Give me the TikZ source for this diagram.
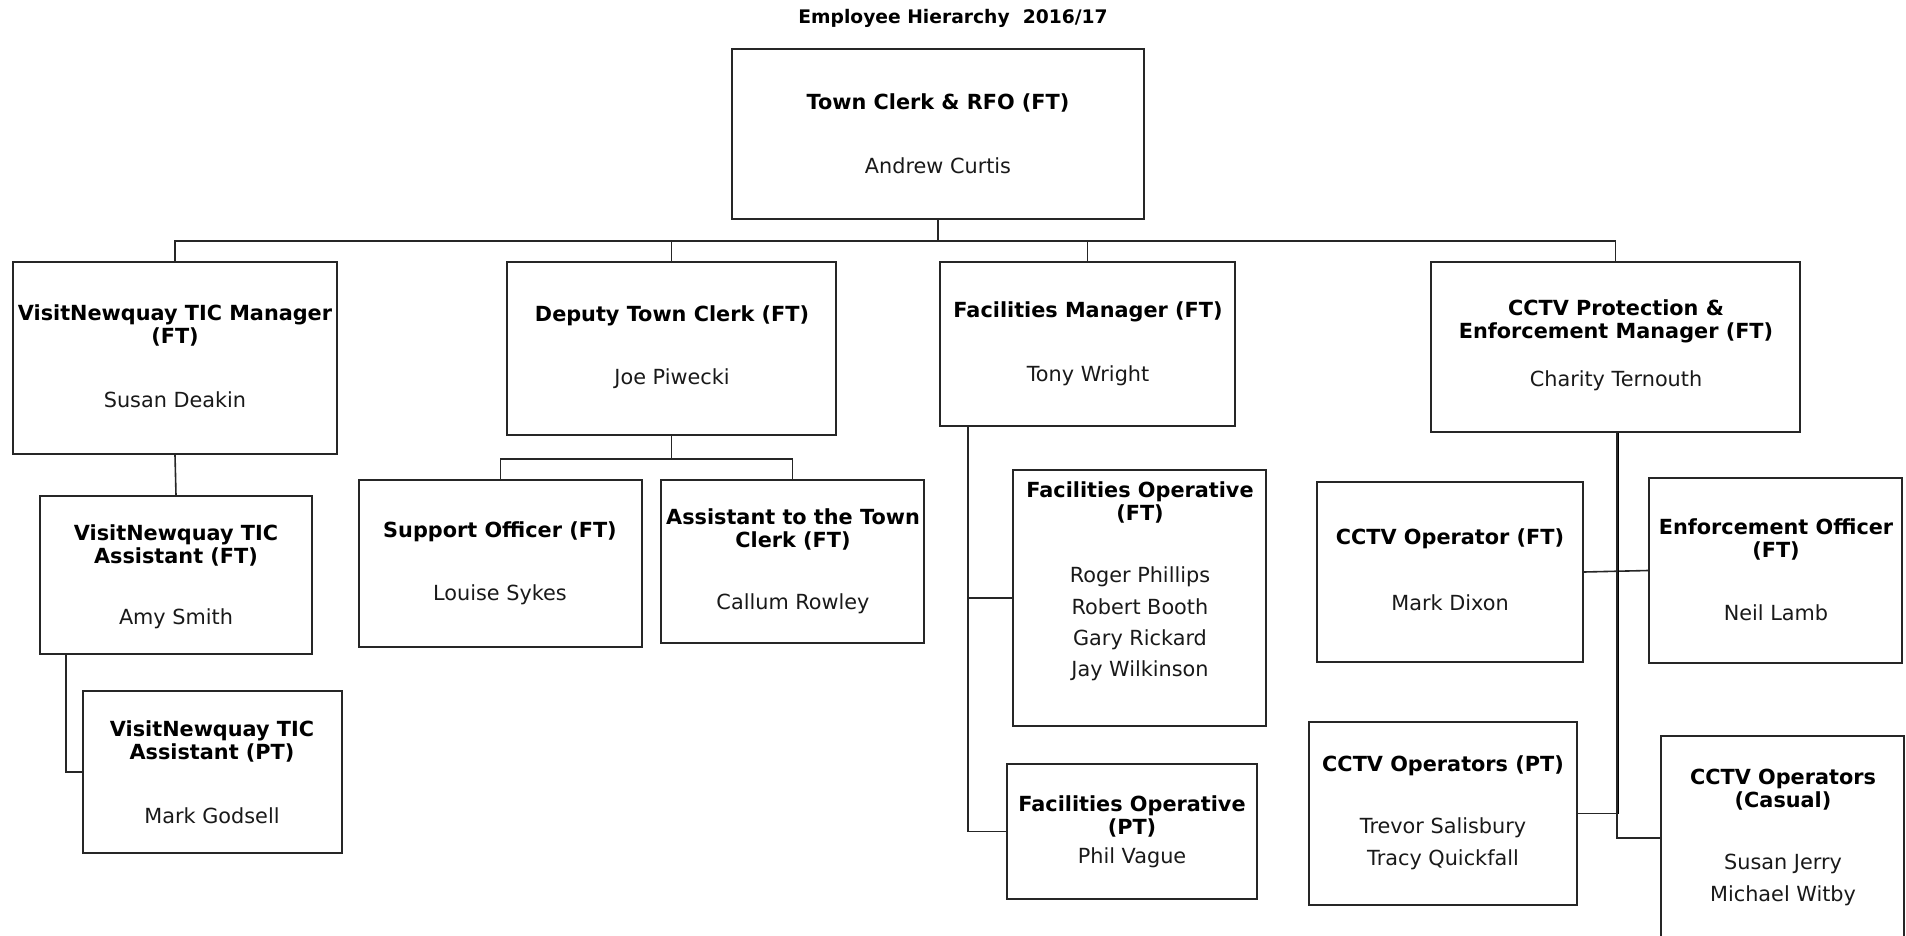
\documentclass[tikz,border=0pt]{standalone}
\usepackage{fontspec}
\setmainfont{DejaVu Sans}
\begin{document}
\begin{tikzpicture}[x=1pt,y=-1pt,
  obox/.style={draw=black!85, line width=1.6pt, fill=white, inner sep=0pt, rectangle},
  ttl/.style={font=\bfseries\fontsize{20.8}{23}\selectfont, align=center, inner sep=0pt, text=black},
  nm/.style={font=\fontsize{20.8}{23}\selectfont, align=center, inner sep=0pt, text=black!90},
  conn/.style={draw=black!85, line width=1.6pt},
  thick conn/.style={draw=black, line width=3pt}]
\clip (0,0) rectangle (1906,935);
\newcommand{\orgbox}[5]{%
  \node[obox, minimum width={(#4)-(#2)}, minimum height={(#5)-(#3)}] (#1) at ({((#2)+(#4))/2},{((#3)+(#5))/2}) {};}

\node[font=\bfseries\fontsize{18.7}{22}\selectfont, inner sep=0pt] (title) at (953,18) {Employee Hierarchy\ \ 2016/17};

% boxes
\orgbox{top}{732}{49}{1144}{219}
\orgbox{tic}{13}{262}{337}{454}
\orgbox{dep}{507}{262}{836}{435}
\orgbox{fac}{940}{262}{1235}{426}
\orgbox{cctv}{1431}{262}{1800}{432}
\orgbox{ticA}{40}{496}{312}{654}
\orgbox{ticP}{83}{691}{342}{853}
\orgbox{sup}{359}{480}{642}{647}
\orgbox{asst}{661}{480}{924}{643}
\orgbox{facO}{1013}{470}{1266}{726}
\orgbox{facP}{1007}{764}{1257}{899}
\orgbox{opFT}{1317}{482}{1583}{662}
\orgbox{enf}{1649}{478}{1902}{663}
\orgbox{ops}{1309}{722}{1577}{905}
\orgbox{cas}{1661}{736}{1904}{940}

% texts
\node[ttl] (top-t) at (938,103) {Town Clerk \& RFO (FT)};
\node[nm] (top-n) at (938,166) {Andrew Curtis};
\node[ttl] (tic-t) at (175,325) {VisitNewquay TIC Manager\\(FT)};
\node[nm] (tic-n) at (175,400) {Susan Deakin};
\node[ttl] (dep-t) at (672,316) {Deputy Town Clerk (FT)};
\node[nm] (dep-n) at (672,379) {Joe Piwecki};
\node[ttl] (fac-t) at (1088,312) {Facilities Manager (FT)};
\node[nm] (fac-n) at (1088,376) {Tony Wright};
\node[ttl] (cctv-t) at (1616,321) {CCTV Protection \&\\Enforcement Manager (FT)};
\node[nm] (cctv-n) at (1616,381) {Charity Ternouth};
\node[ttl] (ticA-t) at (176,545) {VisitNewquay TIC\\Assistant (FT)};
\node[nm] (ticA-n) at (176,619) {Amy Smith};
\node[ttl] (ticP-t) at (212,741) {VisitNewquay TIC\\Assistant (PT)};
\node[nm] (ticP-n) at (212,816) {Mark Godsell};
\node[ttl] (sup-t) at (500,532) {Support Officer (FT)};
\node[nm] (sup-n) at (500,595) {Louise Sykes};
\node[ttl] (asst-t) at (793,529) {Assistant to the Town\\Clerk (FT)};
\node[nm] (asst-n) at (793,604) {Callum Rowley};
\node[ttl] (facO-t) at (1140,502) {Facilities Operative\\(FT)};
\node[nm, font=\fontsize{20.8}{31.3}\selectfont] (facO-n) at (1140,624) {Roger Phillips\\Robert Booth\\Gary Rickard\\Jay Wilkinson};
\node[ttl] (facP-t) at (1132,816) {Facilities Operative\\(PT)};
\node[nm] (facP-n) at (1132,858) {Phil Vague};
\node[ttl] (opFT-t) at (1450,539) {CCTV Operator (FT)};
\node[nm] (opFT-n) at (1450,603) {Mark Dixon};
\node[ttl] (enf-t) at (1776,539) {Enforcement Officer\\(FT)};
\node[nm] (enf-n) at (1776,613) {Neil Lamb};
\node[ttl] (ops-t) at (1443,766) {CCTV Operators (PT)};
\node[nm, font=\fontsize{20.8}{32}\selectfont] (ops-n) at (1443,844) {Trevor Salisbury\\Tracy Quickfall};
\node[ttl] (cas-t) at (1783,790) {CCTV Operators\\(Casual)};
\node[nm, font=\fontsize{20.8}{32}\selectfont] (cas-n) at (1783,880) {Susan Jerry\\Michael Witby};

% connectors
\draw[conn] (top.south) -- ++(0,21) -| (tic.north);
\draw[conn] (top.south) -- ++(0,21) -| (dep.north);
\draw[conn] (top.south) -- ++(0,21) -| (fac.north);
\draw[conn] (top.south) -- ++(0,21) -| (cctv.north);
\draw[conn] (tic.south) -- (ticA.north);
\draw[conn] ([xshift=27pt]ticA.south west) |- (ticP.west);
\draw[conn] (dep.south) -- ++(0,23) -| (sup.north);
\draw[conn] (dep.south) -- ++(0,23) -| (asst.north);
\draw[conn] ([xshift=29pt]fac.south west) |- (facO.west);
\draw[conn] ([xshift=29pt]fac.south west) |- (facP.west);
\draw[conn] (opFT.east) -- (enf.west);
\draw[thick conn] ([xshift=1.5pt]cctv.south) -- ([xshift=1.5pt]cctv.south |- ops.east);
\draw[conn] ([xshift=1.5pt]cctv.south) |- (ops.east);
\draw[conn] ([xshift=1.5pt]cctv.south) |- (cas.west);
\end{tikzpicture}
\end{document}
